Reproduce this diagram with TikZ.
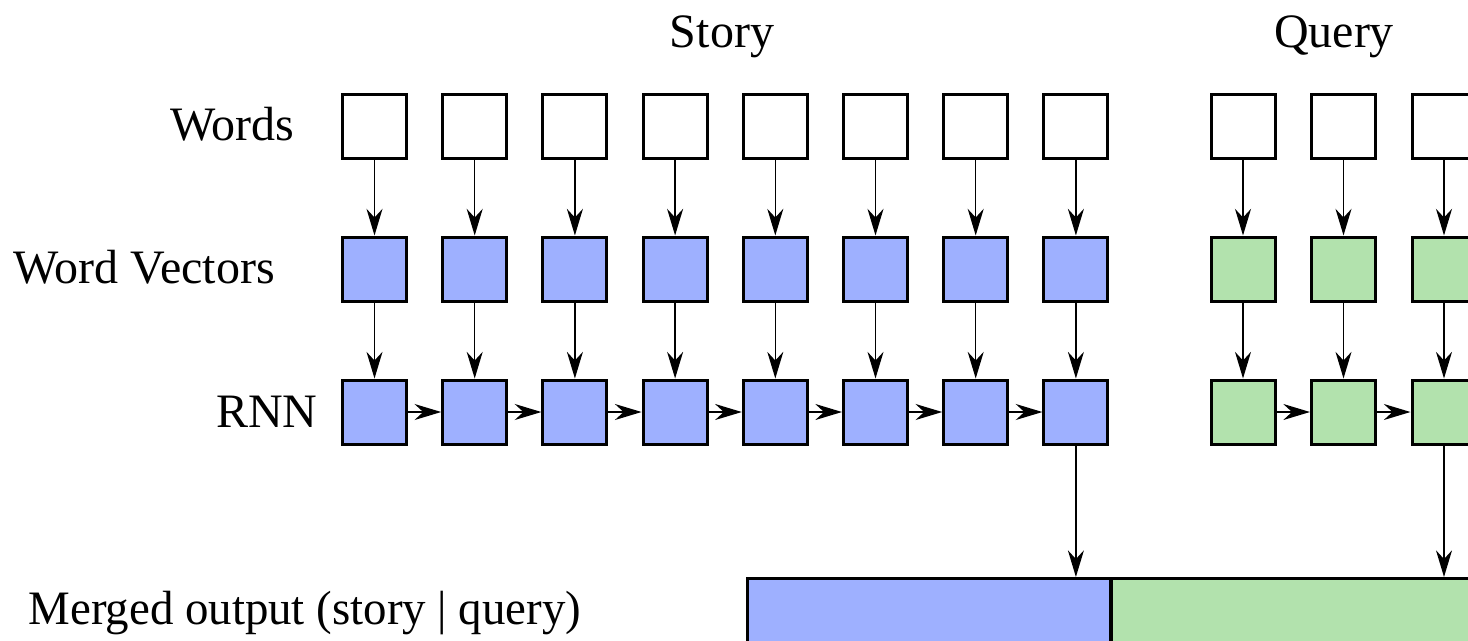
\documentclass[tikz,border=0pt]{standalone}
\usepackage{fontspec}
\setmainfont{Liberation Serif}
\usetikzlibrary{arrows.meta}
\definecolor{storyblue}{RGB}{158,176,255}
\definecolor{querygreen}{RGB}{178,226,173}
\tikzset{every picture/.style={line width=0.75pt}}
\tikzset{
  cell/.style={draw, line width=2.25pt, minimum size=48pt, inner sep=0pt},
  wordcell/.style={cell, fill=white},
  storycell/.style={cell, fill=storyblue},
  querycell/.style={cell, fill=querygreen},
  lbl/.style={inner sep=0pt, font=\fontsize{36}{43}\selectfont},
  flow/.style={-{Stealth[length=20pt,width=12pt]}, line width=1.1pt}
}

\begin{document}
\begin{tikzpicture}[x=0.75pt,y=0.75pt,yscale=-1,xscale=1]
        \useasboundingbox (0,0) rectangle (1468,640);
        \clip (0,0) rectangle (1468,640);
        % headings and row labels
        \node[lbl, anchor=base] (story) at (722,47) {Story};
        \node[lbl, anchor=base] (query) at (1334,47) {Query};
        \node[lbl, anchor=base east] (words) at (295,140) {Words};
        \node[lbl, anchor=base west] (vectors) at (13,283) {Word Vectors};
        \node[lbl, anchor=base east] (rnn) at (318,427) {RNN};
        \node[lbl, anchor=base west, xscale=0.977] (merged) at (28,624) {Merged output (story | query)};
        % story words
        \node[wordcell] (sw1) at (374.5,126) {};
        \node[wordcell] (sw2) at (474.7,126) {};
        \node[wordcell] (sw3) at (574.9,126) {};
        \node[wordcell] (sw4) at (675.1,126) {};
        \node[wordcell] (sw5) at (775.3,126) {};
        \node[wordcell] (sw6) at (875.5,126) {};
        \node[wordcell] (sw7) at (975.7,126) {};
        \node[wordcell] (sw8) at (1075.9,126) {};
        % story word vectors
        \node[storycell] (sv1) at (374.5,269) {};
        \node[storycell] (sv2) at (474.7,269) {};
        \node[storycell] (sv3) at (574.9,269) {};
        \node[storycell] (sv4) at (675.1,269) {};
        \node[storycell] (sv5) at (775.3,269) {};
        \node[storycell] (sv6) at (875.5,269) {};
        \node[storycell] (sv7) at (975.7,269) {};
        \node[storycell] (sv8) at (1075.9,269) {};
        % story rnn
        \node[storycell] (sr1) at (374.5,412) {};
        \node[storycell] (sr2) at (474.7,412) {};
        \node[storycell] (sr3) at (574.9,412) {};
        \node[storycell] (sr4) at (675.1,412) {};
        \node[storycell] (sr5) at (775.3,412) {};
        \node[storycell] (sr6) at (875.5,412) {};
        \node[storycell] (sr7) at (975.7,412) {};
        \node[storycell] (sr8) at (1075.9,412) {};
        % query
        \node[wordcell] (qw1) at (1243,126) {};
        \node[wordcell] (qw2) at (1343.5,126) {};
        \node[wordcell] (qw3) at (1444,126) {};
        \node[querycell] (qv1) at (1243,269) {};
        \node[querycell] (qv2) at (1343.5,269) {};
        \node[querycell] (qv3) at (1444,269) {};
        \node[querycell] (qr1) at (1243,412) {};
        \node[querycell] (qr2) at (1343.5,412) {};
        \node[querycell] (qr3) at (1444,412) {};
        % merged output
        \node[storycell, minimum width=272.6pt, minimum height=90pt] (mstory) at (929.25,638.5) {};
        \node[querycell, minimum width=272.6pt, minimum height=90pt] (mquery) at (1292.75,638.5) {};
        % words -> vectors -> rnn
        \draw[flow] (sw1) -- (sv1);
        \draw[flow] (sw2) -- (sv2);
        \draw[flow] (sw3) -- (sv3);
        \draw[flow] (sw4) -- (sv4);
        \draw[flow] (sw5) -- (sv5);
        \draw[flow] (sw6) -- (sv6);
        \draw[flow] (sw7) -- (sv7);
        \draw[flow] (sw8) -- (sv8);
        \draw[flow] (sv1) -- (sr1);
        \draw[flow] (sv2) -- (sr2);
        \draw[flow] (sv3) -- (sr3);
        \draw[flow] (sv4) -- (sr4);
        \draw[flow] (sv5) -- (sr5);
        \draw[flow] (sv6) -- (sr6);
        \draw[flow] (sv7) -- (sr7);
        \draw[flow] (sv8) -- (sr8);
        \draw[flow] (qw1) -- (qv1);
        \draw[flow] (qw2) -- (qv2);
        \draw[flow] (qw3) -- (qv3);
        \draw[flow] (qv1) -- (qr1);
        \draw[flow] (qv2) -- (qr2);
        \draw[flow] (qv3) -- (qr3);
        % recurrence
        \draw[flow] (sr1) -- (sr2);
        \draw[flow] (sr2) -- (sr3);
        \draw[flow] (sr3) -- (sr4);
        \draw[flow] (sr4) -- (sr5);
        \draw[flow] (sr5) -- (sr6);
        \draw[flow] (sr6) -- (sr7);
        \draw[flow] (sr7) -- (sr8);
        \draw[flow] (qr1) -- (qr2);
        \draw[flow] (qr2) -- (qr3);
        % last states into merged output
        \draw[flow] (sr8) -- (sr8 |- mstory.north);
        \draw[flow] (qr3) -- (qr3 |- mquery.north);
\end{tikzpicture}
\end{document}
